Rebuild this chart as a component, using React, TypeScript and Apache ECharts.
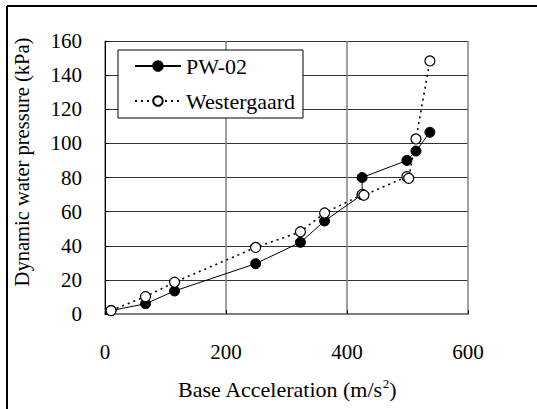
import React, { useEffect, useRef } from "react";
import * as echarts from "echarts";

const xTicks = [0, 200, 400, 600];
const yTicks = [0, 20, 40, 60, 80, 100, 120, 140, 160];

const pwAccel = [10, 67, 115, 249, 323, 363, 425, 425, 499, 514, 537];
const pwPressure = [2, 6, 13.5, 29.5, 42, 54.5, 70, 80, 90, 95.5, 106.5];

const wgAccel = [10, 67, 115, 249, 323, 363, 425, 428, 499, 502, 514, 537];
const wgPressure = [2, 10.2, 18.6, 39, 48.2, 59.2, 70, 69.6, 80.5, 79.5, 102.6, 148.3];

const seriesNames = ["PW-02", "Westergaard"];
const yTitle = "Dynamic water pressure (kPa)";

const FONT = "'Liberation Serif', 'Times New Roman', serif";

export default function App() {
  const ref = useRef<HTMLDivElement>(null);
  useEffect(() => {
    if (!ref.current) return;
    const chart = echarts.init(ref.current, null, { renderer: "svg" });
    const pw = pwAccel.map((x, i) => [x, pwPressure[i]]);
    const wg = wgAccel.map((x, i) => [x, wgPressure[i]]);
    chart.setOption({
      animation: false,
      backgroundColor: "#fff",
      textStyle: { fontFamily: FONT },
      grid: { left: 105, top: 41, width: 363, height: 273 },
      xAxis: {
        type: "value",
        min: xTicks[0],
        max: xTicks[xTicks.length - 1],
        interval: 200,
        axisLine: { show: true, lineStyle: { color: "#808080", width: 2 } },
        axisTick: { show: true, inside: true, length: 4, lineStyle: { color: "#000" } },
        axisLabel: { margin: 27, fontSize: 21, color: "#000", fontFamily: FONT },
        splitLine: { show: true, lineStyle: { color: "#808080", width: 1.5 } },
      },
      yAxis: {
        type: "value",
        min: yTicks[0],
        max: yTicks[yTicks.length - 1],
        interval: 20,
        axisLine: { show: true, lineStyle: { color: "#000", width: 1 } },
        axisTick: { show: true, inside: true, length: 4, lineStyle: { color: "#000" } },
        axisLabel: { margin: 23, fontSize: 21, color: "#000", fontFamily: FONT },
        splitLine: { show: true, lineStyle: { color: "#333", width: 1 } },
      },
      legend: {
        left: 118,
        top: 50,
        orient: "vertical",
        itemWidth: 46,
        itemHeight: 12,
        itemGap: 13,
        padding: [5, 8, 6, 16],
        backgroundColor: "#fff",
        borderColor: "#000",
        borderWidth: 1,
        borderRadius: 0,
        textStyle: { fontSize: 22, color: "#000", fontFamily: FONT },
        data: seriesNames,
      },
      series: [
        {
          name: seriesNames[0],
          type: "line",
          data: pw,
          symbol: "circle",
          symbolSize: 10,
          lineStyle: { color: "#000", width: 1, type: "solid" },
          itemStyle: { color: "#000", borderColor: "#000", borderWidth: 1 },
          z: 2,
        },
        {
          name: seriesNames[1],
          type: "line",
          data: wg,
          symbol: "circle",
          symbolSize: 10,
          lineStyle: { color: "#000", width: 1.6, type: [2, 4] },
          itemStyle: { color: "#fff", borderColor: "#000", borderWidth: 1.2 },
          z: 3,
        },
      ],
      graphic: [
        {
          type: "line",
          shape: { x1: 7, y1: 6, x2: 537, y2: 6 },
          style: { stroke: "#000", lineWidth: 2 },
        },
        {
          type: "line",
          shape: { x1: 7, y1: 6, x2: 7, y2: 409 },
          style: { stroke: "#000", lineWidth: 2 },
        },
        {
          type: "text",
          x: 22,
          y: 162,
          rotation: Math.PI / 2,
          style: {
            text: yTitle,
            fontSize: 20.5,
            fontFamily: FONT,
            fill: "#000",
            align: "center",
            verticalAlign: "middle",
          },
        },
        {
          type: "text",
          x: 287,
          y: 389,
          style: {
            text: "Base Acceleration (m/s{sup|2})",
            fontSize: 22,
            fontFamily: FONT,
            fill: "#000",
            align: "center",
            verticalAlign: "middle",
            rich: {
              sup: { fontSize: 13, fontFamily: FONT, verticalAlign: "top", padding: [0, 0, 11, 0] },
            },
          },
        },
      ],
    });
    return () => chart.dispose();
  }, []);
  return (
    <div
      ref={ref}
      style={{ position: "fixed", left: 0, top: 0, width: 537, height: 409, background: "#fff" }}
    />
  );
}
